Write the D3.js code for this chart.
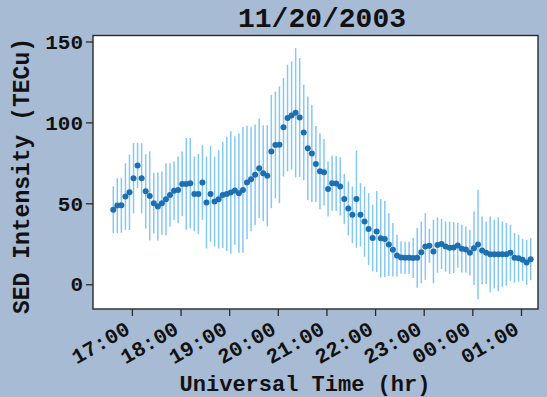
<!DOCTYPE html>
<html>
<head>
<meta charset="utf-8">
<script src="https://cdn.jsdelivr.net/npm/d3@7"></script>
<style>
  html, body { margin: 0; padding: 0; background: #a8bbd5; }
  svg { display: block; }
  text { font-family: "Liberation Mono", "DejaVu Sans Mono", monospace; font-weight: bold; fill: #111; }
</style>
</head>
<body>
<svg id="chart" width="547" height="397"></svg>
<script>
// SED intensity samples (UT, 5-minute cadence) for the 2003-11-20 storm
const dateLabel = "11/20/2003";

const times = [
  "16:37","16:42","16:47","16:52","16:57","17:02","17:07","17:12","17:17","17:22",
  "17:27","17:32","17:37","17:42","17:47","17:52","17:57","18:02","18:07","18:12",
  "18:17","18:22","18:27","18:32","18:37","18:42","18:47","18:52","18:57","19:02",
  "19:07","19:12","19:17","19:22","19:27","19:32","19:37","19:42","19:47","19:52",
  "19:57","20:02","20:07","20:12","20:17","20:22","20:27","20:32","20:37","20:42",
  "20:47","20:52","20:57","21:02","21:07","21:12","21:17","21:22","21:27","21:32",
  "21:37","21:42","21:47","21:52","21:57","22:02","22:07","22:12","22:17","22:22",
  "22:27","22:32","22:37","22:42","22:47","22:52","22:57","23:02","23:07","23:12",
  "23:17","23:22","23:27","23:32","23:37","23:42","23:47","23:52","23:57","00:02",
  "00:07","00:12","00:17","00:22","00:27","00:32","00:37","00:42","00:47","00:52",
  "00:57","01:02","01:07","01:12"
];

// mean TEC in the SED region (TECu)
const sedMean = [
  46, 48.6, 48.8, 54.2, 56.8, 65.5, 73.4, 65.5, 57.4, 54.6,
  50.1, 48, 50.1, 52.5, 55.2, 57.7, 58.3, 62, 62, 62.4,
  55.8, 55.8, 62.9, 50.5, 55.8, 51.1, 52.5, 55.2, 55.8, 56.7,
  57.9, 56.3, 58.3, 62.9, 64.9, 67.6, 71.7, 68.6, 67, 82,
  86, 86.2, 97, 102.7, 104.3, 106, 103, 93.8, 84, 80.8,
  74.3, 69.8, 69.2, 58.8, 62.4, 62.2, 60.4, 52.6, 46.8, 42.9,
  52.6, 42.9, 38.7, 34.1, 28.6, 32.6, 28.4, 28, 24.5, 21.3,
  17.7, 16.5, 16.3, 16.3, 16.2, 16.3, 19.7, 23.3, 23.8, 20.2,
  24.2, 24.9, 23.3, 22.6, 22.7, 24, 22, 21.4, 19.5, 22.3,
  24.6, 20.9, 19.5, 18.5, 18.6, 18.5, 18.6, 18.5, 19.4, 16.3,
  16.1, 15.1, 13.5, 15.5
];

// standard deviation of TEC in the SED region (TECu)
const sedErr = [
  14.5, 17, 17, 20.6, 23.3, 21.7, 14, 21.7, 23, 27.5,
  18.7, 21, 19.5, 22.3, 19.6, 18.1, 20.6, 20, 28.3, 27.9,
  23.1, 24.8, 23.1, 28.4, 29.6, 27.8, 30.4, 32.8, 35.3, 37.8,
  33.5, 36.8, 38.9, 35.1, 32.1, 31.1, 30.7, 29.7, 31.3, 35,
  33, 36, 30.4, 33, 33.4, 40, 36.8, 29.5, 32, 30,
  23.5, 23.5, 20.5, 17, 17, 17, 18, 15.5, 16.7, 17.5,
  30, 19.6, 21.7, 22.2, 20.5, 25, 24.3, 23.6, 19.4, 16.5,
  12.9, 10, 10, 10, 12.3, 18.4, 19.1, 20.6, 10.5, 19.6,
  17.1, 15.5, 15.5, 16.2, 15.8, 13.8, 14.7, 14.3, 14.1, 22.7,
  33.8, 21, 19.3, 23.4, 21.2, 22.8, 20.2, 19.3, 17.3, 15.3,
  14.5, 13, 13.9, 13
];

const yTickValues = [0, 50, 100, 150];
const xTickLabels = ["17:00","18:00","19:00","20:00","21:00","22:00","23:00","00:00","01:00"];
const xDomainLabels = ["16:12", "01:21"];
const yDomain = [-15.3, 153.7];

// times before noon belong to the following UT day
function toDate(hhmm) {
  const [h, mn] = hhmm.split(":").map(Number);
  return new Date(Date.UTC(2003, 10, h < 12 ? 21 : 20, h, mn));
}

const plot = { left: 93, top: 35.5, right: 538, bottom: 309 };

const x = d3.scaleUtc()
  .domain(xDomainLabels.map(toDate))
  .range([plot.left, plot.right]);
const y = d3.scaleLinear()
  .domain(yDomain)
  .range([plot.bottom, plot.top]);

const data = times.map((t, i) => ({ t: toDate(t), v: sedMean[i], e: sedErr[i] }));

const svg = d3.select("#chart");

svg.append("rect")
  .attr("x", plot.left).attr("y", plot.top)
  .attr("width", plot.right - plot.left).attr("height", plot.bottom - plot.top)
  .attr("fill", "#ffffff");

// error bars
svg.append("g")
  .selectAll("line")
  .data(data)
  .join("line")
  .attr("x1", d => x(d.t)).attr("x2", d => x(d.t))
  .attr("y1", d => y(d.v - d.e)).attr("y2", d => y(d.v + d.e))
  .attr("stroke", "#84c8f4")
  .attr("stroke-width", 1.5);

// mean markers
svg.append("g")
  .selectAll("circle")
  .data(data)
  .join("circle")
  .attr("cx", d => x(d.t)).attr("cy", d => y(d.v))
  .attr("r", 3)
  .attr("fill", "#1f6fb0");

// frame
svg.append("rect")
  .attr("x", plot.left).attr("y", plot.top)
  .attr("width", plot.right - plot.left).attr("height", plot.bottom - plot.top)
  .attr("fill", "none")
  .attr("stroke", "#2a2a2a")
  .attr("stroke-width", 1.4);

// x axis
const xAxis = svg.append("g")
  .attr("transform", `translate(0,${plot.bottom})`)
  .call(d3.axisBottom(x)
    .tickValues(xTickLabels.map(toDate))
    .tickFormat(d3.utcFormat("%H:%M"))
    .tickSize(7)
    .tickSizeOuter(0));
xAxis.select(".domain").remove();
xAxis.selectAll(".tick line").attr("stroke", "#2a2a2a").attr("stroke-width", 1.3);
xAxis.selectAll(".tick text")
  .attr("x", -1).attr("y", 24).attr("dy", 0)
  .attr("text-anchor", "end")
  .attr("transform", "rotate(-30,-1,24)")
  .style("font-size", "21px")
  .style("font-family", "'Liberation Mono', monospace")
  .style("font-weight", "bold")
  .attr("fill", "#111");

// y axis
const yAxis = svg.append("g")
  .attr("transform", `translate(${plot.left},0)`)
  .call(d3.axisLeft(y)
    .tickValues(yTickValues)
    .tickSize(7)
    .tickPadding(3)
    .tickSizeOuter(0));
yAxis.select(".domain").remove();
yAxis.selectAll(".tick line").attr("stroke", "#2a2a2a").attr("stroke-width", 1.3);
yAxis.selectAll(".tick text")
  .style("font-size", "21px")
  .style("font-family", "'Liberation Mono', monospace")
  .style("font-weight", "bold")
  .attr("fill", "#111");

// title and axis labels
svg.append("text")
  .attr("x", 322).attr("y", 27)
  .attr("text-anchor", "middle")
  .style("font-size", "28px")
  .text(dateLabel);

svg.append("text")
  .attr("x", 305).attr("y", 391)
  .attr("text-anchor", "middle")
  .style("font-size", "22px")
  .text("Universal Time (hr)");

svg.append("text")
  .attr("transform", "translate(29,176) rotate(-90)")
  .attr("text-anchor", "middle")
  .style("font-size", "23px")
  .text("SED Intensity (TECu)");
</script>
</body>
</html>
